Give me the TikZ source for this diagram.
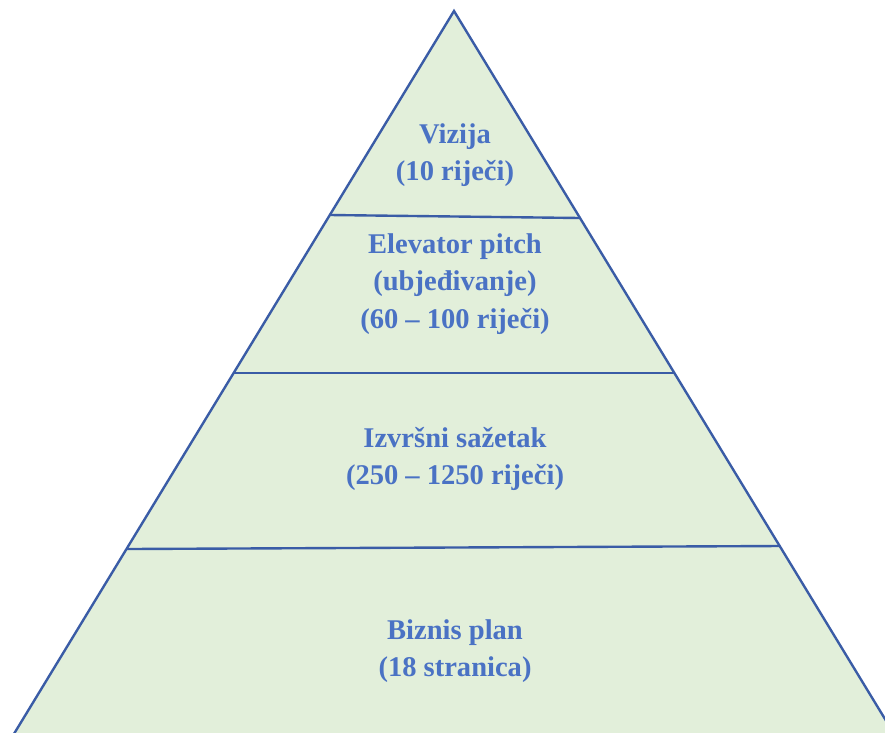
\documentclass[tikz,border=0pt]{standalone}
\usepackage{fontspec}
\setmainfont{Liberation Serif}
\definecolor{pyrfill}{HTML}{E2EFDA}
\definecolor{pyrline}{HTML}{3A5CA6}
\definecolor{pyrtext}{HTML}{4A72C4}
\tikzset{
	level/.style={font=\bfseries\fontsize{20.3}{26.5}\selectfont, text=pyrtext, align=center},
	cut/.style={draw=pyrline, line width=1.7pt}
}
\begin{document}
\begin{tikzpicture}[x=0.025cm, y=-0.025cm]
			\useasboundingbox (0,0) rectangle (885,732);
			\clip (0,0) rectangle (885,732);
			
			% pyramid body
			\filldraw[fill=pyrfill, draw=pyrline, line width=1.7pt] (454,11) -- (-5,765) -- (913,765) -- cycle;
			
			% levels
			\draw[cut] (330,215) -- (580,218);
			\draw[cut] (234,373) -- (675,373);
			\draw[cut] (127,549) -- (780,546);
			
			\node[level] (vizija) at (455,155) {Vizija\\(10 riječi)};
			\node[level] (pitch) at (455,284) {Elevator pitch\\(ubjeđivanje)\\(60 – 100 riječi)};
			\node[level] (sazetak) at (455,459) {Izvršni sažetak\\(250 – 1250 riječi)};
			\node[level] (plan) at (455,651) {Biznis plan\\(18 stranica)};
		\end{tikzpicture}
\end{document}
